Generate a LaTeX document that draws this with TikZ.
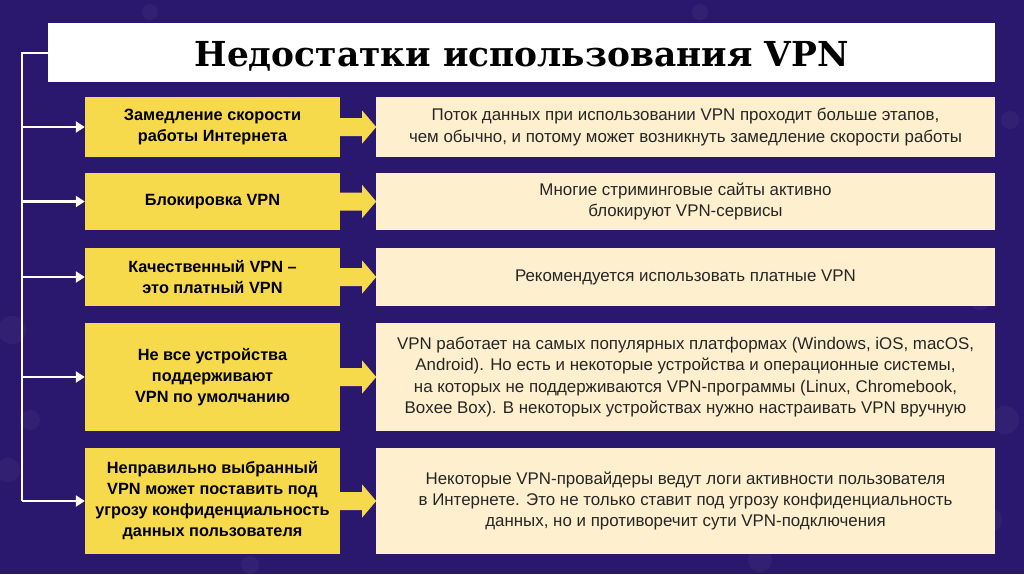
\documentclass[tikz,border=0pt]{standalone}
\usepackage{fontspec}
\setmainfont{Liberation Sans}
\newfontfamily\titlefont{DejaVu Serif}
\usetikzlibrary{arrows.meta}
\definecolor{bgpurple}{RGB}{42,24,110}
\definecolor{ylw}{RGB}{247,218,76}
\definecolor{cream}{RGB}{254,240,206}
\tikzset{
  ybox/.style={fill=ylw, minimum width=255pt, inner sep=0pt, align=center,
    font=\fontsize{16.3pt}{21pt}\selectfont\bfseries, text=black},
  cbox/.style={fill=cream, minimum width=619pt, inner sep=0pt, align=center,
    font=\fontsize{16.9pt}{21.3pt}\selectfont, text=black!85},
  wline/.style={draw=white, line width=2.4pt},
  warrow/.style={wline, -{Triangle[length=9pt,width=11pt]}},
}
\newcommand{\blockarrow}[1]{%
  \fill[ylw] ([xshift=-2pt,yshift=9pt]#1.east) -- ([xshift=22pt,yshift=9pt]#1.east)
    -- ([xshift=22pt,yshift=16.5pt]#1.east) -- ([xshift=36pt]#1.east)
    -- ([xshift=22pt,yshift=-16.5pt]#1.east) -- ([xshift=22pt,yshift=-9pt]#1.east)
    -- ([xshift=-2pt,yshift=-9pt]#1.east) -- cycle;}
\begin{document}
\begin{tikzpicture}[x=1pt,y=-1pt]
\fill[bgpurple] (0,0) rectangle (1024,574);
\useasboundingbox (0,0) rectangle (1024,574);
% faint bokeh
\foreach \cx/\cy/\r in {12/330/14, 30/420/10, 8/470/12, 980/300/10, 1005/420/14, 990/520/12, 150/12/8, 700/12/8, 520/540/10, 760/560/12, 250/565/9, 1010/120/9}
  \fill[white, opacity=0.04] (\cx,\cy) circle (\r);
% title
\node[fill=white, minimum width=947pt, minimum height=59pt, inner sep=0pt] (title) at (521.5,52.5) {};
\node[font=\titlefont\bfseries\fontsize{34.4pt}{36pt}\selectfont, text=black, anchor=base, inner sep=0pt] (titletext) at (521.5,66) {Недостатки использования VPN};
% left boxes
\node[ybox, minimum height=60pt] (y1) at (212.5,127) {Замедление скорости\\работы Интернета};
\node[ybox, minimum height=57pt] (y2) at (212.5,201.5) {Блокировка VPN};
\node[ybox, minimum height=58pt] (y3) at (212.5,277) {Качественный VPN –\\это платный VPN};
\node[ybox, minimum height=108pt] (y4) at (212.5,377) {Не все устройства\\поддерживают\\VPN по умолчанию};
\node[ybox, minimum height=106pt] (y5) at (212.5,501) {Неправильно выбранный\\VPN может поставить под\\угрозу конфиденциальность\\данных пользователя};
% right boxes
\node[cbox, minimum height=60pt] (c1) at (685.5,127) {Поток данных при использовании VPN проходит больше этапов,\\чем обычно, и потому может возникнуть замедление скорости работы};
\node[cbox, minimum height=57pt] (c2) at (685.5,201.5) {Многие стриминговые сайты активно\\блокируют VPN-сервисы};
\node[cbox, minimum height=58pt] (c3) at (685.5,277) {Рекомендуется использовать платные VPN};
\node[cbox, minimum height=108pt] (c4) at (685.5,377) {VPN работает на самых популярных платформах (Windows, iOS, macOS,\\Android). Но есть и некоторые устройства и операционные системы,\\на которых не поддерживаются VPN-программы (Linux, Chromebook,\\Boxee Box). В некоторых устройствах нужно настраивать VPN вручную};
\node[cbox, minimum height=106pt] (c5) at (685.5,501) {Некоторые VPN-провайдеры ведут логи активности пользователя\\в Интернете. Это не только ставит под угрозу конфиденциальность\\данных, но и противоречит сути VPN-подключения};
% block arrows
\blockarrow{y1}\blockarrow{y2}\blockarrow{y3}\blockarrow{y4}\blockarrow{y5}
% left bracket
\coordinate (top) at (22,53);
\coordinate (bot) at (22,501);
\draw[wline] (title.west |- top) -- (top) -- (bot);
\foreach \i in {1,...,4} \draw[warrow] (top |- y\i.west) -- (y\i.west);
\draw[warrow] (bot) -- (y5.west);
\end{tikzpicture}
\end{document}
